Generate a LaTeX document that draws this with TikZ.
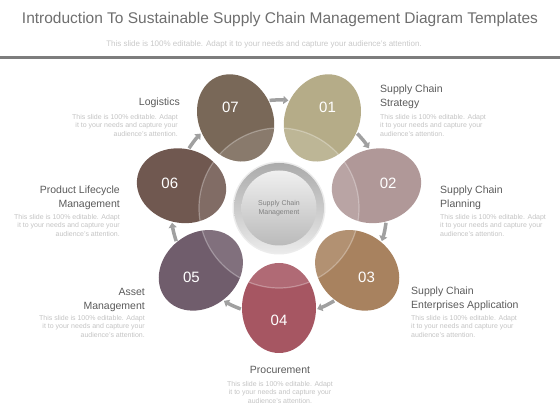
\documentclass[tikz,border=0pt]{standalone}
\usepackage{fontspec}
\setmainfont{Liberation Sans}
\usetikzlibrary{shapes.geometric,arrows.meta,calc}
\definecolor{cA}{RGB}{181,172,136}
\definecolor{cB}{RGB}{176,152,152}
\definecolor{cC}{RGB}{168,130,95}
\definecolor{cD}{RGB}{166,86,98}
\definecolor{cE}{RGB}{112,93,108}
\definecolor{cF}{RGB}{112,88,80}
\definecolor{cG}{RGB}{121,104,88}
\definecolor{headgray}{RGB}{90,90,90}
\definecolor{descgray}{RGB}{195,195,195}
\definecolor{titlegray}{RGB}{110,110,110}
\definecolor{subgray}{RGB}{200,200,200}
\definecolor{rulegray}{RGB}{125,125,125}
\definecolor{arrgray}{RGB}{160,160,160}
\tikzset{
  oval/.style={ellipse, minimum width=90, minimum height=74, inner sep=0, draw=none,
    path picture={\fill[white,opacity=.12] (C) circle (80);
                  \draw[white,opacity=.3,line width=1.2] (C) circle (80);}},
  num/.style={font=\fontsize{15}{15}\selectfont, text=white, inner sep=0},
  head/.style={font=\fontsize{10.5}{13.6}\selectfont, text=headgray, inner sep=0},
  desc/.style={font=\fontsize{7}{8.4}\selectfont, text=descgray, inner sep=0},
  flow/.style={draw=arrgray, line width=3.5, -{Triangle[length=5,width=8]}},
}
\begin{document}
\begin{tikzpicture}[x=1pt,y=1pt]
\useasboundingbox (0,0) rectangle (560,420);
% header
\node[font=\fontsize{15.5}{15.5}\selectfont, text=titlegray] (title) at (280,401) {Introduction To Sustainable Supply Chain Management Diagram Templates};
\node[font=\fontsize{8}{8}\selectfont, text=subgray] (sub) at (264,376) {This slide is 100\% editable. Adapt it to your needs and capture your audience's attention.};
\coordinate (L1) at (0,362.5);
\coordinate (L2) at (560,362.5);
\draw[rulegray, line width=3] (L1) -- (L2);

\coordinate (C) at (279,212);

% ovals
\foreach \nm/\ang/\col/\lab in {o4/-90/cD/04, o3/-38.57/cC/03, o2/12.86/cB/02, o1/64.29/cA/01, o7/115.71/cG/07, o6/167.14/cF/06, o5/218.57/cE/05}{
  \node[oval, fill=\col, rotate=\ang] (\nm) at ($(C)+(\ang:100)$) {};
  \node[num] (n\nm) at ($(C)+(\ang:112)$) {\lab};
}

% centre
\fill[white!85!gray] (C) circle (46.5);
\shade[top color=black!33, bottom color=black!8] (C) circle (45);
\shade[top color=black!6, bottom color=black!27] (C) circle (37.5);
\node[font=\fontsize{7}{9}\selectfont, text=black!50, align=center] (centre) at (C) {Supply Chain\\Management};

% arrows
\foreach \m [count=\i] in {90, 38.57, -12.86, -64.29, -115.71, -167.14, 141.43}{
  \coordinate (as\i) at ($(C)+(\m+5:108)$);
  \coordinate (ae\i) at ($(C)+(\m-5:108)$);
  \draw[flow] (as\i) to[bend left=5] (ae\i);
}

% labels
\node[head, anchor=north west, align=left] (h1) at (380,335) {Supply Chain\\Strategy};
\node[desc, anchor=north west, align=left] (d1) at (380,306) {This slide is 100\% editable. Adapt\\it to your needs and capture your\\audience's attention.};
\node[head, anchor=north west, align=left] (h2) at (440,234) {Supply Chain\\Planning};
\node[desc, anchor=north west, align=left] (d2) at (440,206) {This slide is 100\% editable. Adapt\\it to your needs and capture your\\audience's attention.};
\node[head, anchor=north west, align=left] (h3) at (411,133) {Supply Chain\\Enterprises Application};
\node[desc, anchor=north west, align=left] (d3) at (411,105) {This slide is 100\% editable. Adapt\\it to your needs and capture your\\audience's attention.};
\node[head, anchor=north] (h4) at (280,54) {Procurement};
\node[desc, anchor=north, align=center] (d4) at (280,39) {This slide is 100\% editable. Adapt\\it to your needs and capture your\\audience's attention.};
\node[head, anchor=north east, align=right] (h5) at (145,132) {Asset\\Management};
\node[desc, anchor=north east, align=right] (d5) at (145,105) {This slide is 100\% editable. Adapt\\it to your needs and capture your\\audience's attention.};
\node[head, anchor=north east, align=right] (h6) at (120,234) {Product Lifecycle\\Management};
\node[desc, anchor=north east, align=right] (d6) at (120,206) {This slide is 100\% editable. Adapt\\it to your needs and capture your\\audience's attention.};
\node[head, anchor=north east, align=right] (h7) at (180,322) {Logistics};
\node[desc, anchor=north east, align=right] (d7) at (178,306) {This slide is 100\% editable. Adapt\\it to your needs and capture your\\audience's attention.};
\end{tikzpicture}
\end{document}
